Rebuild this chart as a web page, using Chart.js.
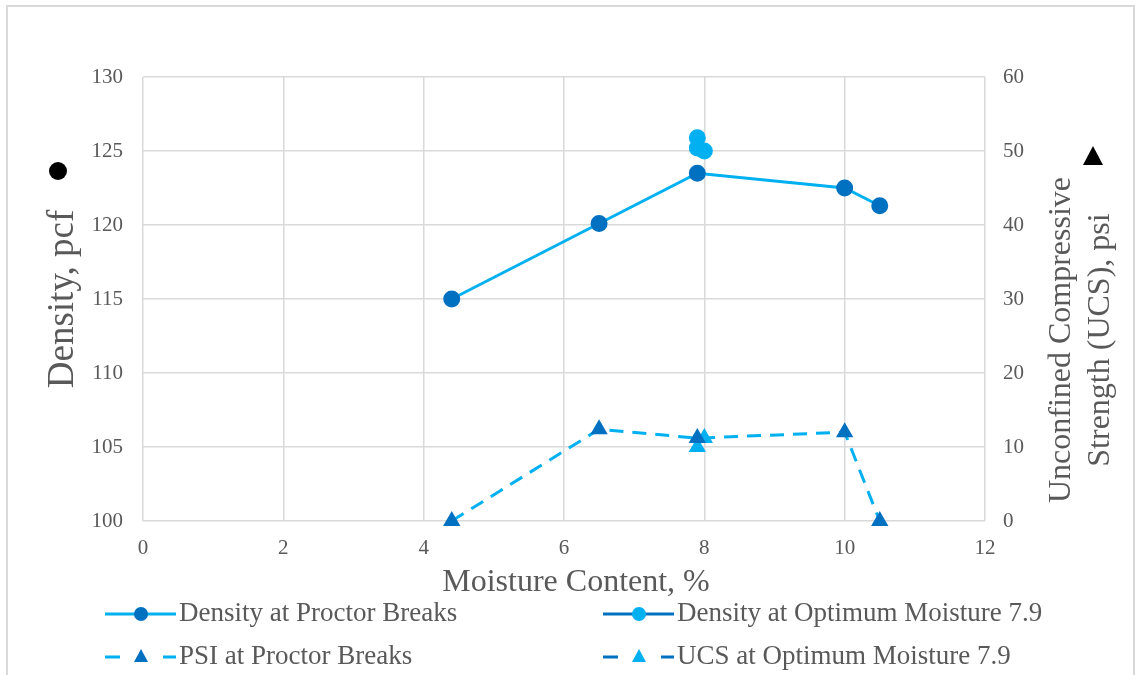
<!DOCTYPE html>
<html>
<head>
<meta charset="utf-8">
<script src="https://cdn.jsdelivr.net/npm/chart.js@4.4.1/dist/chart.umd.min.js"></script>
<style>
  html, body { margin: 0; padding: 0; background: #fff; }
  #wrap { width: 1139px; height: 675px; position: relative; }
</style>
</head>
<body>
<div id="wrap"><canvas id="myChart1"></canvas></div>
<script>

    // moisture content (%) for each series
    var proctorMoisture = [4.4, 6.5, 7.9, 10, 10.5];
    var proctorDensity = [115, 120.1, 123.5, 122.5, 121.3];
    var proctorPsi = [0, 12.4, 11.2, 12.0, 0];

    var optimumMoistureDensity = [7.9, 7.9, 8.0];
    var optimumDensity = [125.9, 125.2, 125.0];
    var optimumMoistureUcs = [7.9, 8.0];
    var optimumUcs = [10.0, 11.2];

    var seriesNames = [
      'Density at Proctor Breaks',
      'Density at Optimum Moisture 7.9',
      'PSI at Proctor Breaks',
      'UCS at Optimum Moisture 7.9'
    ];
    var xTitle = 'Moisture Content, %';
    var leftTitle = 'Density, pcf';
    var rightTitle = ['Unconfined Compressive', 'Strength (UCS), psi'];

    var lightBlue = '#00B0F0';
    var darkBlue = '#0070C0';
    var textGray = '#595959';
    var gridGray = '#d9d9d9';
    var serif = "'Liberation Serif', 'Times New Roman', serif";

    function pts(xs, ys) {
      return xs.map(function (x, i) { return { x: x, y: ys[i] }; });
    }

    var data1 = {
      datasets: [{
        label: seriesNames[0],
        data: pts(proctorMoisture, proctorDensity),
        yAxisID: 'y',
        borderColor: lightBlue,
        borderWidth: 3,
        pointStyle: 'circle',
        pointRadius: 7,
        pointBackgroundColor: darkBlue,
        pointBorderColor: darkBlue,
        clip: false
      }, {
        label: seriesNames[1],
        data: pts(optimumMoistureDensity, optimumDensity),
        yAxisID: 'y',
        showLine: false,
        borderColor: darkBlue,
        borderWidth: 3,
        pointStyle: 'circle',
        pointRadius: 7,
        pointBackgroundColor: lightBlue,
        pointBorderColor: lightBlue,
        clip: false
      }, {
        label: seriesNames[2],
        data: pts(proctorMoisture, proctorPsi),
        yAxisID: 'y2',
        borderColor: lightBlue,
        borderWidth: 3,
        borderDash: [14, 9],
        pointStyle: 'triangle',
        pointRadius: 7,
        pointBackgroundColor: darkBlue,
        pointBorderColor: darkBlue,
        clip: false
      }, {
        label: seriesNames[3],
        data: pts(optimumMoistureUcs, optimumUcs),
        yAxisID: 'y2',
        showLine: false,
        borderColor: darkBlue,
        borderWidth: 3,
        borderDash: [14, 9],
        pointStyle: 'triangle',
        pointRadius: 7,
        pointBackgroundColor: lightBlue,
        pointBorderColor: lightBlue,
        clip: false
      }]
    };

    // frame, axis symbols, titles and the legend are drawn here
    var extras = {
      id: 'extras',
      beforeDraw: function (chart) {
        var ctx = chart.ctx;
        ctx.save();
        ctx.fillStyle = '#fff';
        ctx.fillRect(0, 0, chart.width, chart.height);
        ctx.strokeStyle = gridGray;
        ctx.lineWidth = 2;
        ctx.strokeRect(7, 6, 1127, 700);
        ctx.restore();
      },
      afterDraw: function (chart) {
        var ctx = chart.ctx;
        ctx.save();
        // black circle by the density axis, black triangle by the UCS axis
        ctx.fillStyle = '#000';
        ctx.beginPath();
        ctx.arc(58, 171, 9, 0, Math.PI * 2);
        ctx.fill();
        ctx.beginPath();
        ctx.moveTo(1093, 146);
        ctx.lineTo(1103, 165);
        ctx.lineTo(1083, 165);
        ctx.closePath();
        ctx.fill();

        ctx.fillStyle = textGray;
        ctx.textAlign = 'center';
        ctx.textBaseline = 'middle';

        // x axis title (sits a little right of the plot centre)
        ctx.font = '32px ' + serif;
        ctx.fillText(xTitle, 576, 583);

        // right axis title, reading bottom to top
        ctx.font = '32px ' + serif;
        ctx.translate(1062, 340);
        ctx.rotate(-Math.PI / 2);
        ctx.fillText(rightTitle[0], 0, 0);
        ctx.fillText(rightTitle[1], 0, 39);
        ctx.restore();

        // legend, two columns by two rows
        var cols = [105, 603];
        var rows = [614, 657];
        ctx.save();
        chart.data.datasets.forEach(function (ds, i) {
          var x0 = cols[i % 2];
          var y0 = rows[Math.floor(i / 2)];
          var mid = x0 + 36;
          ctx.strokeStyle = ds.borderColor;
          ctx.lineWidth = 3;
          ctx.beginPath();
          if (ds.borderDash) {
            ctx.moveTo(x0, y0); ctx.lineTo(x0 + 15, y0);
            ctx.moveTo(x0 + 58, y0); ctx.lineTo(x0 + 71, y0);
          } else {
            ctx.moveTo(x0, y0); ctx.lineTo(x0 + 71, y0);
          }
          ctx.stroke();
          ctx.fillStyle = ds.pointBackgroundColor;
          ctx.beginPath();
          if (ds.pointStyle === 'circle') {
            ctx.arc(mid, y0, 7, 0, Math.PI * 2);
          } else {
            ctx.moveTo(mid, y0 - 8);
            ctx.lineTo(mid + 7, y0 + 5);
            ctx.lineTo(mid - 7, y0 + 5);
            ctx.closePath();
          }
          ctx.fill();
          ctx.fillStyle = textGray;
          ctx.font = '27px ' + serif;
          ctx.textAlign = 'left';
          ctx.textBaseline = 'middle';
          ctx.fillText(ds.label, x0 + 74, y0);
        });
        ctx.restore();
      }
    };

    var config1 = {
      type: 'line',
      data: data1,
      plugins: [extras],
      options: {
        responsive: true,
        maintainAspectRatio: false,
        animation: false,
        layout: { padding: { top: 77, bottom: 69, left: 0, right: 0 } },
        plugins: {
          legend: { display: false },
          tooltip: { enabled: false }
        },
        scales: {
          x: {
            type: 'linear',
            min: 0,
            max: 12,
            ticks: { stepSize: 2, color: textGray, padding: 15, font: { family: serif, size: 21 } },
            grid: { color: gridGray, lineWidth: 1.5, drawTicks: false },
            border: { display: false },
            afterFit: function (s) { s.height = 85; }
          },
          y: {
            position: 'left',
            min: 100,
            max: 130,
            ticks: { stepSize: 5, color: textGray, padding: 20, font: { family: serif, size: 21 } },
            grid: { color: gridGray, lineWidth: 1.5, drawTicks: false },
            border: { display: false },
            title: { display: true, text: leftTitle, color: textGray, padding: { top: 41, bottom: 0 }, font: { family: serif, size: 37 } },
            afterFit: function (s) { s.width = 143; }
          },
          y2: {
            position: 'right',
            min: 0,
            max: 60,
            ticks: { stepSize: 10, color: textGray, padding: 18, font: { family: serif, size: 21 } },
            grid: { display: false, drawTicks: false },
            border: { display: false },
            afterFit: function (s) { s.width = 154; }
          }
        }
      }
    };

    var myChart1 = new Chart(
      document.getElementById('myChart1'),
      config1
    );
</script>
</body>
</html>
